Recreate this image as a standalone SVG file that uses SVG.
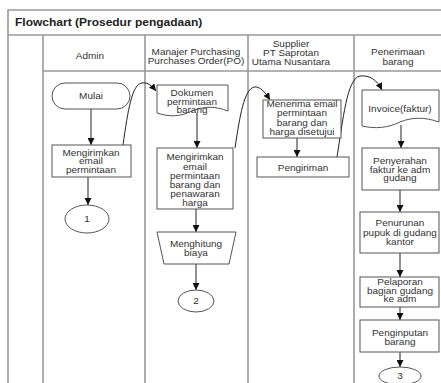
<svg xmlns="http://www.w3.org/2000/svg" width="441" height="383" viewBox="0 0 441 383">
<style>
text{font-family:"Liberation Sans",Arial,sans-serif;font-size:10px;fill:#333;text-anchor:middle}
.t{transform-box:fill-box;transform-origin:center;transform:scaleY(.88)}
.title{font-size:12px;font-weight:bold;text-anchor:start;fill:#222}
.lane{stroke:#999;stroke-width:1.6;fill:none}
.shape{fill:#fff;stroke:#555;stroke-width:1}
.conn{stroke:#222;stroke-width:1;fill:none}
</style>
<defs>
<marker id="ah" viewBox="0 0 10 10" refX="10" refY="5" markerWidth="7" markerHeight="7" orient="auto" markerUnits="userSpaceOnUse">
<path d="M0,0 L10,5 L0,10 Z" fill="#111"/>
</marker>
</defs>
<rect width="441" height="383" fill="#fff"/>
<g id="frame">
<path class="lane" d="M8,383 V10 H441 M8,35 H441 M43,35 V383 M43,71 H441 M145,35 V383 M248,35 V383 M354,35 V383"/>
<text class="title t" x="15" y="27">Flowchart (Prosedur pengadaan)</text>
<text class="t" x="90" y="59">Admin</text>
<text class="t" x="196" y="55">Manajer Purchasing</text>
<text class="t" x="196" y="64.5">Purchases Order(PO)</text>
<text class="t" x="291" y="47.5">Supplier</text>
<text class="t" x="291" y="56.5">PT Saprotan</text>
<text class="t" x="291" y="65.5">Utama Nusantara</text>
<text class="t" x="398" y="55.5">Penerimaan</text>
<text class="t" x="398" y="65">barang</text>
</g>
<g id="connectors">
<line class="conn" x1="91" y1="109" x2="91" y2="145" marker-end="url(#ah)"/>
<line class="conn" x1="88" y1="177" x2="88" y2="205" marker-end="url(#ah)"/>
<path class="conn" d="M123,145 C128,110 132,84 142,83 C148,82 152,86 156,91" marker-end="url(#ah)"/>
<line class="conn" x1="197" y1="113" x2="197" y2="148" marker-end="url(#ah)"/>
<line class="conn" x1="196" y1="209" x2="196" y2="232" marker-end="url(#ah)"/>
<line class="conn" x1="196" y1="264" x2="196" y2="290" marker-end="url(#ah)"/>
<path class="conn" d="M235,148 C240,115 244,90 254,87 C260,86 265,92 270,100" marker-end="url(#ah)"/>
<line class="conn" x1="297" y1="138" x2="297" y2="157" marker-end="url(#ah)"/>
<path class="conn" d="M337,157 C343,120 347,78 360,76 C370,75 377,80 382,90" marker-end="url(#ah)"/>
<line class="conn" x1="401" y1="125" x2="401" y2="148" marker-end="url(#ah)"/>
<line class="conn" x1="400" y1="190" x2="400" y2="212" marker-end="url(#ah)"/>
<line class="conn" x1="400" y1="253" x2="400" y2="277" marker-end="url(#ah)"/>
<line class="conn" x1="400" y1="307" x2="400" y2="320" marker-end="url(#ah)"/>
<line class="conn" x1="400" y1="352" x2="400" y2="367" marker-end="url(#ah)"/>
</g>
<g id="mulai">
<rect class="shape" x="52" y="83" width="78" height="26" rx="13"/>
<text class="t" x="91" y="99.5">Mulai</text>
</g>
<g id="admin-email">
<rect class="shape" x="52" y="145" width="79" height="32"/>
<text class="t" x="91" y="156">Mengirimkan</text>
<text class="t" x="91" y="164.5">email</text>
<text class="t" x="91" y="173">permintaan</text>
</g>
<g id="conn1">
<ellipse class="shape" cx="87" cy="219" rx="22" ry="14"/>
<text class="t" x="87" y="222.5">1</text>
</g>
<g id="dokumen">
<path class="shape" d="M157,85 H228 V111 C215,106 204,106 192,111 C180,117 169,117 157,113 Z"/>
<text class="t" x="192" y="96.5">Dokumen</text>
<text class="t" x="192" y="105.5">permintaan</text>
<text class="t" x="192" y="113.5">barang</text>
</g>
<g id="po-email">
<rect class="shape" x="157" y="148" width="76" height="61"/>
<text class="t" x="195" y="160.8">Mengirimkan</text>
<text class="t" x="195" y="170.2">email</text>
<text class="t" x="195" y="179.5">permintaan</text>
<text class="t" x="195" y="188.5">barang dan</text>
<text class="t" x="195" y="197.5">penawaran</text>
<text class="t" x="195" y="206.2">harga</text>
</g>
<g id="menghitung">
<path class="shape" d="M157,232 H236 L229,264 H164 Z"/>
<text class="t" x="196" y="247.5">Menghitung</text>
<text class="t" x="196" y="256.5">biaya</text>
</g>
<g id="conn2">
<ellipse class="shape" cx="196" cy="301" rx="18" ry="11"/>
<text class="t" x="196" y="304.5">2</text>
</g>
<g id="menerima">
<rect class="shape" x="263" y="100" width="78" height="38"/>
<text class="t" x="302" y="107.8">Menerima email</text>
<text class="t" x="302" y="116.8">permintaan</text>
<text class="t" x="302" y="126.2">barang dan</text>
<text class="t" x="302" y="135.2">harga disetujui</text>
</g>
<g id="pengiriman">
<rect class="shape" x="257" y="157" width="92" height="20"/>
<text class="t" x="303" y="171.5">Pengiriman</text>
</g>
<g id="invoice">
<path class="shape" d="M362,90 H439 V122 C425,117 412,117 400,122 C388,128 375,129 362,126 Z"/>
<text class="t" x="400" y="112">Invoice(faktur)</text>
</g>
<g id="penyerahan">
<rect class="shape" x="362" y="148" width="77" height="42"/>
<text class="t" x="400" y="164.5">Penyerahan</text>
<text class="t" x="400" y="173">faktur ke adm</text>
<text class="t" x="400" y="181.5">gudang</text>
</g>
<g id="penurunan">
<rect class="shape" x="360" y="212" width="79" height="41"/>
<text class="t" x="400" y="226.5">Penurunan</text>
<text class="t" x="400" y="236">pupuk di gudang</text>
<text class="t" x="400" y="245.5">kantor</text>
</g>
<g id="pelaporan">
<rect class="shape" x="360" y="277" width="79" height="30"/>
<text class="t" x="400" y="285">Pelaporan</text>
<text class="t" x="400" y="294">bagian gudang</text>
<text class="t" x="400" y="302.5">ke adm</text>
</g>
<g id="penginputan">
<rect class="shape" x="360" y="320" width="79" height="32"/>
<text class="t" x="400" y="336">Penginputan</text>
<text class="t" x="400" y="345">barang</text>
</g>
<g id="conn3">
<ellipse class="shape" cx="400" cy="376" rx="21" ry="9"/>
<text class="t" x="400" y="379.5">3</text>
</g>
</svg>
